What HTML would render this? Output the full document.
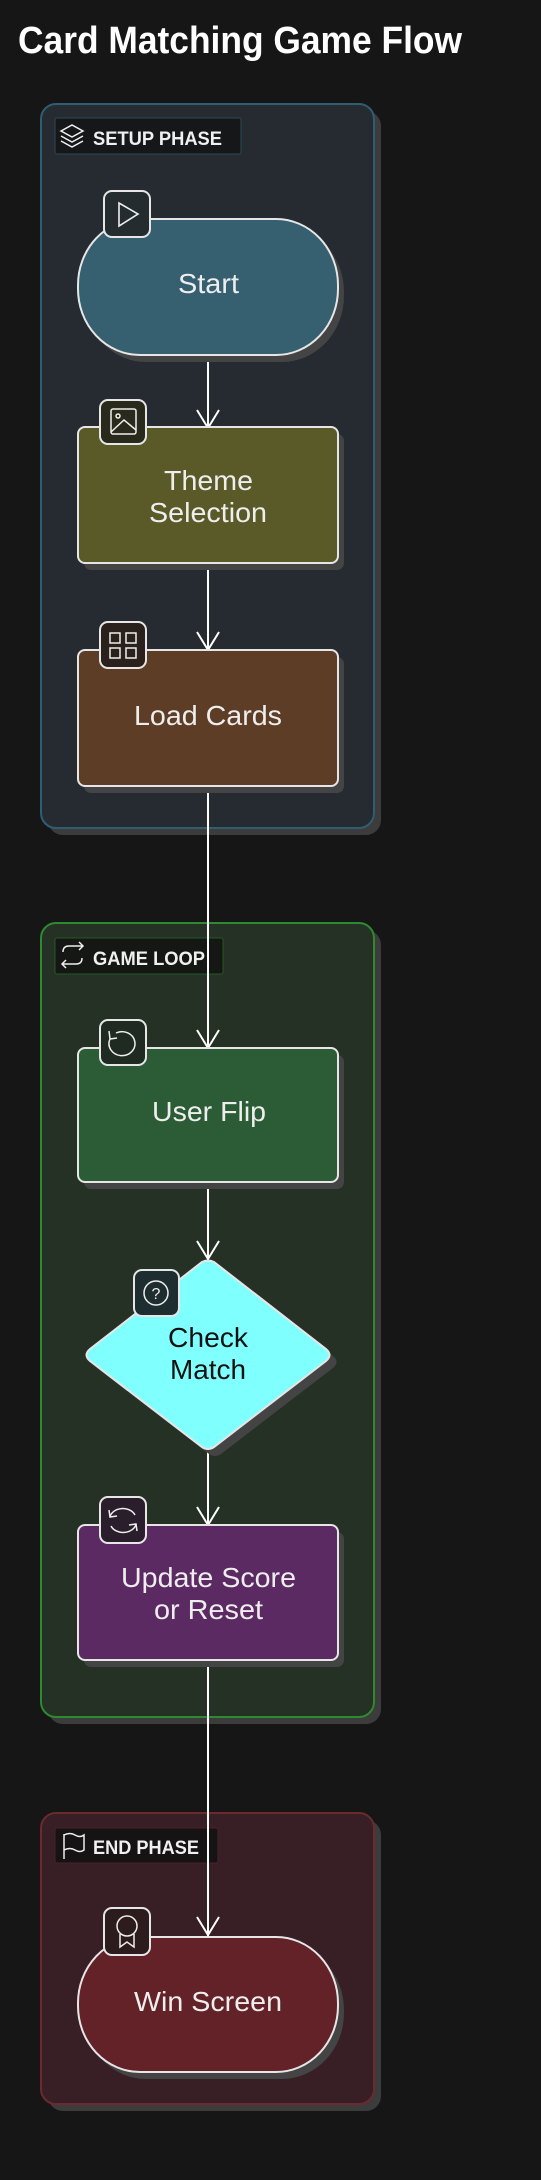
<!DOCTYPE html>
<html><head><meta charset="utf-8"><style>
html,body{margin:0;padding:0;background:#161616;}
svg{display:block}
text{font-family:"Liberation Sans",Arial,sans-serif;}
</style></head><body>
<svg width="541" height="2180" viewBox="0 0 541 2180" xmlns="http://www.w3.org/2000/svg">
<rect width="541" height="2180" fill="#161616"/>
<text x="18" y="53" font-size="38" font-weight="bold" fill="#ffffff" textLength="444" lengthAdjust="spacingAndGlyphs">Card Matching Game Flow</text>

<!-- SETUP cluster -->
<rect x="48" y="111" width="333" height="724" rx="15" fill="#3c3c3c"/>
<rect x="41" y="104" width="333" height="724" rx="15" fill="#252b30" stroke="#2f5d72" stroke-width="2"/>
<rect x="55" y="118" width="186" height="36" rx="2" fill="#151719" stroke="#2b4a58" stroke-width="1"/>
<g stroke="#eee" stroke-width="1.5" fill="none"><path d="M61 131 L72 125 L83 131 L72 137 Z"/><path d="M61 136 L72 142 L83 136"/><path d="M61 141 L72 147 L83 141"/></g>
<text x="93" y="145" font-size="19" font-weight="bold" fill="#f0f0f0" textLength="129" lengthAdjust="spacingAndGlyphs">SETUP PHASE</text>

<!-- GAME cluster -->
<rect x="48" y="930" width="333" height="794" rx="15" fill="#3c3c3c"/>
<rect x="41" y="923" width="333" height="794" rx="15" fill="#243124" stroke="#2e8a2e" stroke-width="2"/>
<rect x="55" y="938" width="168" height="36" rx="2" fill="#151715" stroke="#245a24" stroke-width="1"/>
<g stroke="#eee" stroke-width="1.5" fill="none"><path d="M63 952 Q63 946 69 946 L83 946 M79 942 L83 946 L79 950"/><path d="M82 958 Q82 964 76 964 L62 964 M66 960 L62 964 L66 968"/></g>
<text x="93" y="965" font-size="19" font-weight="bold" fill="#f0f0f0" textLength="112" lengthAdjust="spacingAndGlyphs">GAME LOOP</text>

<!-- END cluster -->
<rect x="48" y="1820" width="333" height="291" rx="15" fill="#3c3c3c"/>
<rect x="41" y="1813" width="333" height="291" rx="15" fill="#371f25" stroke="#6a2a30" stroke-width="2"/>
<rect x="55" y="1828" width="163" height="35" rx="2" fill="#151314" stroke="#4a2228" stroke-width="1"/>
<g stroke="#eee" stroke-width="1.5" fill="none"><path d="M64 1834 L64 1859"/><path d="M64 1835 Q70 1832 75 1835 Q80 1838 84 1835 L84 1850 Q80 1853 75 1850 Q70 1847 64 1850"/></g>
<text x="93" y="1854" font-size="19" font-weight="bold" fill="#f0f0f0" textLength="106" lengthAdjust="spacingAndGlyphs">END PHASE</text>

<!-- connectors -->
<g stroke="#ffffff" stroke-width="2" fill="none">
<path d="M208 355 L208 428"/><path d="M197 410 L208 428 L219 410"/>
<path d="M208 563 L208 650"/><path d="M197 632 L208 650 L219 632"/>
<path d="M208 786 L208 1048"/><path d="M197 1030 L208 1048 L219 1030"/>
<path d="M208 1182 L208 1259"/><path d="M197 1241 L208 1259 L219 1241"/>
<path d="M208 1450 L208 1525"/><path d="M197 1507 L208 1525 L219 1507"/>
<path d="M208 1660 L208 1937"/><path d="M197 1917 L208 1935 L219 1917"/>
</g>

<!-- Start -->
<rect x="84" y="226" width="260" height="136" rx="62" ry="66" fill="#444"/>
<rect x="78" y="219" width="260" height="136" rx="62" ry="66" fill="#366070" stroke="#e6e6e6" stroke-width="2"/>
<rect x="104" y="191" width="46" height="46" rx="8" fill="#242c30" stroke="#e6e6e6" stroke-width="2"/>
<path d="M119 203 L119 226 L138 214 Z" fill="none" stroke="#eee" stroke-width="1.6"/>
<text x="178" y="293" font-size="28" fill="#eeeeee" textLength="61" lengthAdjust="spacingAndGlyphs">Start</text>

<!-- Theme -->
<rect x="84" y="434" width="260" height="136" rx="7" fill="#444"/>
<rect x="78" y="427" width="260" height="136" rx="7" fill="#5a5a28" stroke="#e6e6e6" stroke-width="2"/>
<rect x="100" y="400" width="46" height="44" rx="8" fill="#2a2a1c" stroke="#e6e6e6" stroke-width="2"/>
<g stroke="#eee" stroke-width="1.5" fill="none"><rect x="111" y="409" width="25" height="25" rx="2"/><circle cx="118" cy="416" r="2"/><path d="M111 432 L124 420 L136 430"/></g>
<text x="164" y="490" font-size="28" fill="#eeeeee" textLength="89" lengthAdjust="spacingAndGlyphs">Theme</text>
<text x="149" y="522" font-size="28" fill="#eeeeee" textLength="118" lengthAdjust="spacingAndGlyphs">Selection</text>

<!-- Load Cards -->
<rect x="84" y="657" width="260" height="136" rx="7" fill="#444"/>
<rect x="78" y="650" width="260" height="136" rx="7" fill="#5e3d26" stroke="#e6e6e6" stroke-width="2"/>
<rect x="100" y="622" width="46" height="46" rx="8" fill="#2a211c" stroke="#e6e6e6" stroke-width="2"/>
<g stroke="#eee" stroke-width="1.5" fill="none"><rect x="110" y="633" width="10" height="10"/><rect x="126" y="633" width="10" height="10"/><rect x="110" y="648" width="10" height="10"/><rect x="126" y="648" width="10" height="10"/></g>
<text x="134" y="725" font-size="28" fill="#eeeeee" textLength="148" lengthAdjust="spacingAndGlyphs">Load Cards</text>

<!-- User Flip -->
<rect x="84" y="1055" width="260" height="134" rx="7" fill="#444"/>
<rect x="78" y="1048" width="260" height="134" rx="7" fill="#2c5c35" stroke="#e6e6e6" stroke-width="2"/>
<rect x="100" y="1020" width="46" height="45" rx="8" fill="#1f2a20" stroke="#e6e6e6" stroke-width="2"/>
<g stroke="#eee" stroke-width="1.5" fill="none"><path d="M110 1039 A13 12 0 1 0 116 1033"/><path d="M109 1031 L110 1039 L117 1038"/></g>
<text x="152" y="1121" font-size="28" fill="#eeeeee" textLength="114" lengthAdjust="spacingAndGlyphs">User Flip</text>

<!-- Check Match -->
<path d="M202 1262 Q208 1259 214 1262 L326 1349 Q333 1355 326 1361 L214 1447 Q208 1451 202 1447 L90 1361 Q83 1355 90 1349 Z" fill="#444" transform="translate(7,7)"/>
<path d="M202 1262 Q208 1259 214 1262 L326 1349 Q333 1355 326 1361 L214 1447 Q208 1451 202 1447 L90 1361 Q83 1355 90 1349 Z" fill="#80ffff" stroke="#e6e6e6" stroke-width="2"/>
<rect x="134" y="1270" width="45" height="46" rx="8" fill="#1e2e30" stroke="#e6e6e6" stroke-width="2"/>
<circle cx="156" cy="1293" r="12" fill="none" stroke="#eee" stroke-width="1.5"/>
<text x="156" y="1299" font-size="16" fill="#eee" text-anchor="middle">?</text>
<text x="168" y="1347" font-size="28" fill="#111111" textLength="80" lengthAdjust="spacingAndGlyphs">Check</text>
<text x="170" y="1379" font-size="28" fill="#111111" textLength="76" lengthAdjust="spacingAndGlyphs">Match</text>

<!-- Update -->
<rect x="84" y="1532" width="260" height="135" rx="7" fill="#444"/>
<rect x="78" y="1525" width="260" height="135" rx="7" fill="#5c2a62" stroke="#e6e6e6" stroke-width="2"/>
<rect x="100" y="1497" width="46" height="46" rx="8" fill="#2a1e2c" stroke="#e6e6e6" stroke-width="2"/>
<g stroke="#eee" stroke-width="1.5" fill="none"><path d="M110 1517 A13 10 0 0 1 135 1515"/><path d="M136 1524 A13 10 0 0 1 111 1526"/><path d="M109 1510 L110 1517 L117 1516"/><path d="M137 1531 L136 1524 L129 1525"/></g>
<text x="121" y="1587" font-size="28" fill="#eeeeee" textLength="175" lengthAdjust="spacingAndGlyphs">Update Score</text>
<text x="154" y="1619" font-size="28" fill="#eeeeee" textLength="109" lengthAdjust="spacingAndGlyphs">or Reset</text>

<!-- Win -->
<rect x="84" y="1944" width="260" height="135" rx="62" ry="66" fill="#444"/>
<rect x="78" y="1937" width="260" height="135" rx="62" ry="66" fill="#622228" stroke="#e6e6e6" stroke-width="2"/>
<rect x="104" y="1908" width="46" height="47" rx="8" fill="#2c1c1e" stroke="#e6e6e6" stroke-width="2"/>
<g stroke="#eee" stroke-width="1.5" fill="none"><circle cx="127" cy="1926" r="10"/><path d="M120 1934 L120 1947 L127 1942 L134 1947 L134 1934"/></g>
<text x="134" y="2011" font-size="28" fill="#eeeeee" textLength="148" lengthAdjust="spacingAndGlyphs">Win Screen</text>
</svg>
</body></html>
